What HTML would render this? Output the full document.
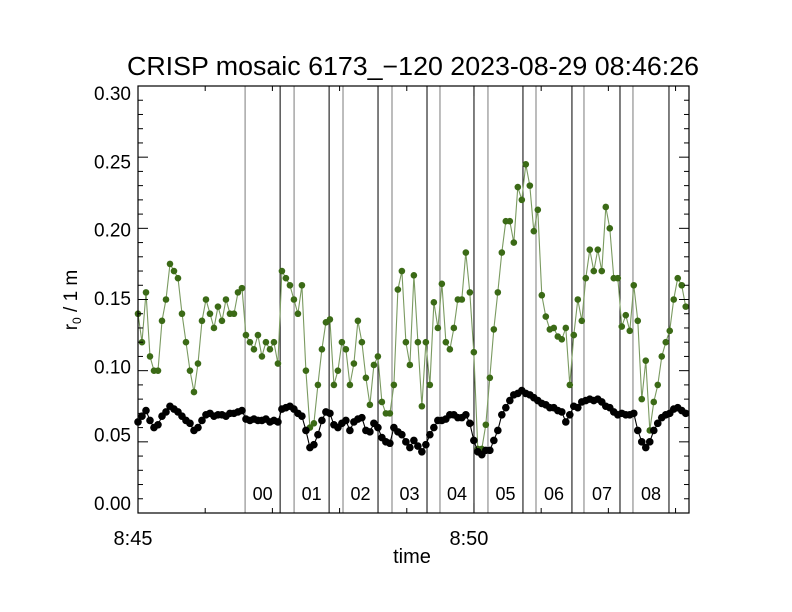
<!DOCTYPE html>
<html><head><meta charset="utf-8"><style>
body{margin:0;background:#fff;}
svg{display:block;font-family:"Liberation Sans",sans-serif;}
</style></head><body>
<svg id="chart" width="792" height="612" viewBox="0 0 792 612" xmlns="http://www.w3.org/2000/svg">
<rect width="792" height="612" fill="#fff"/>
<text x="413" y="75" font-size="25.5" text-anchor="middle" textLength="572" lengthAdjust="spacingAndGlyphs">CRISP mosaic 6173_−120 2023-08-29 08:46:26</text>
<text transform="translate(77,300) rotate(-90)" font-size="19" text-anchor="middle">r<tspan font-size="12" dy="4">0</tspan><tspan dy="-4"> / 1 m</tspan></text>
<text x="412" y="563" font-size="20" text-anchor="middle">time</text>
<g id="grid"></g>
<g id="marks"></g>
<g id="axes"></g>
</svg>
<script>
const yTicks=[0.00,0.05,0.10,0.15,0.20,0.25,0.30];
const yTickLabels=["0.00","0.05","0.10","0.15","0.20","0.25","0.30"];
const xTicks=[0,5];
const xTickLabels=["8:45","8:50"];
const segLabels=["00","01","02","03","04","05","06","07","08"];
const segStart=[1.594,2.323,3.051,3.780,4.494,5.208,5.923,6.637,7.366];
const segEnd=[2.115,2.844,3.572,4.301,5.0,5.729,6.458,7.173,7.902];
const sampleStep=0.0595;
const seeing=[0.14,0.12,0.155,0.11,0.10,0.10,0.135,0.15,0.175,0.17,0.165,0.14,0.12,0.10,0.085,0.105,0.135,0.15,0.14,0.13,0.145,0.135,0.15,0.14,0.14,0.155,0.158,0.125,0.12,0.115,0.125,0.11,0.12,0.115,0.12,0.105,0.17,0.165,0.16,0.15,0.14,0.16,0.10,0.06,0.063,0.09,0.115,0.134,0.136,0.09,0.10,0.12,0.115,0.09,0.105,0.135,0.12,0.095,0.076,0.104,0.11,0.078,0.07,0.07,0.09,0.157,0.17,0.12,0.104,0.167,0.12,0.075,0.12,0.09,0.148,0.13,0.161,0.12,0.115,0.13,0.15,0.15,0.183,0.155,0.113,0.045,0.045,0.062,0.095,0.129,0.155,0.183,0.205,0.205,0.19,0.229,0.22,0.245,0.23,0.198,0.213,0.153,0.138,0.129,0.13,0.124,0.122,0.13,0.09,0.125,0.15,0.135,0.165,0.185,0.17,0.185,0.17,0.215,0.20,0.165,0.165,0.131,0.139,0.128,0.16,0.135,0.08,0.107,0.058,0.078,0.09,0.11,0.12,0.128,0.15,0.165,0.16,0.145];
const gseeing=[0.064,0.068,0.072,0.065,0.06,0.062,0.068,0.071,0.075,0.073,0.071,0.068,0.065,0.063,0.058,0.06,0.065,0.069,0.07,0.068,0.069,0.069,0.068,0.07,0.07,0.071,0.072,0.066,0.065,0.066,0.065,0.065,0.066,0.064,0.065,0.064,0.073,0.074,0.075,0.073,0.07,0.068,0.058,0.046,0.048,0.055,0.065,0.071,0.07,0.062,0.06,0.063,0.065,0.058,0.064,0.066,0.067,0.058,0.057,0.063,0.06,0.053,0.05,0.049,0.06,0.057,0.055,0.05,0.046,0.051,0.047,0.043,0.048,0.055,0.06,0.065,0.065,0.066,0.069,0.069,0.067,0.067,0.069,0.063,0.051,0.043,0.041,0.044,0.044,0.051,0.058,0.069,0.074,0.079,0.083,0.084,0.086,0.084,0.083,0.081,0.079,0.077,0.076,0.074,0.074,0.072,0.071,0.064,0.069,0.075,0.074,0.078,0.079,0.08,0.079,0.08,0.078,0.075,0.074,0.071,0.069,0.07,0.069,0.069,0.07,0.058,0.05,0.046,0.05,0.058,0.063,0.067,0.069,0.07,0.073,0.074,0.072,0.07];

const L=138,R=689,T=86,B=513,xMax=8.2,yMax=0.30;
const sx=t=>L+(t/xMax)*(R-L);
const sy=v=>B-(v/yMax)*(B-T);
const NS="http://www.w3.org/2000/svg";
function mk(tag,attrs,parent){const e=document.createElementNS(NS,tag);for(const k in attrs)e.setAttribute(k,attrs[k]);parent.appendChild(e);return e;}
const grid=document.getElementById('grid'),marks=document.getElementById('marks'),axes=document.getElementById('axes');

segStart.forEach((t,i)=>{
  const a=mk('line',{x1:sx(t),x2:sx(t),y1:T,y2:B,stroke:'#999','stroke-width':1.3},grid);
  
  
  const b=mk('line',{x1:sx(segEnd[i]),x2:sx(segEnd[i]),y1:T,y2:B,stroke:'#000','stroke-width':1},grid);
  
  
  const tx=mk('text',{x:(sx(t)+sx(segEnd[i]))/2,y:500,'font-size':18,'text-anchor':'middle'},grid);
  tx.textContent=segLabels[i];
  
  
});

function series(vals,lineCol,dotCol,r,name){
  const pts=vals.map((v,i)=>sx(i*sampleStep).toFixed(1)+','+sy(v).toFixed(1)).join(' ');
  const pl=mk('polyline',{points:pts,fill:'none',stroke:lineCol,'stroke-width':1.1},marks);
  
  
  vals.forEach((v,i)=>{
    const c=mk('circle',{cx:sx(i*sampleStep),cy:sy(v),r:r,fill:dotCol},marks);
    
    
  });
}
series(seeing,'#7a9a60','#3b6a16',3.3,'green-series');
series(gseeing,'#000','#000',3.8,'black-series');

const box=mk('rect',{x:L,y:T,width:R-L,height:B-T,fill:'none',stroke:'#000','stroke-width':1.2},axes);


for(let k=0;k<=30;k++){
  const v=k*0.01,len=(k%5===0)?10:5,y=sy(v);
  mk('line',{x1:L,x2:L+len,y1:y,y2:y,stroke:'#000'},axes);
  mk('line',{x1:R,x2:R-len,y1:y,y2:y,stroke:'#000'},axes);
}
yTicks.forEach((v,i)=>{
  const y=503-(v/yMax)*410+7;
  const t=mk('text',{x:L-7,y:y,'font-size':19,'text-anchor':'end'},axes);
  t.textContent=yTickLabels[i];
  
  
});
for(let m=0;m<=8;m++){
  const x=sx(m),len=(m%5===0)?10:5;
  mk('line',{x1:x,x2:x,y1:B,y2:B-len,stroke:'#000'},axes);
  mk('line',{x1:x,x2:x,y1:T,y2:T+len,stroke:'#000'},axes);
}
xTicks.forEach((m,i)=>{
  const t=mk('text',{x:sx(m)-5,y:545,'font-size':20,'text-anchor':'middle'},axes);
  t.textContent=xTickLabels[i];
  
  
});
</script>
</body></html>
